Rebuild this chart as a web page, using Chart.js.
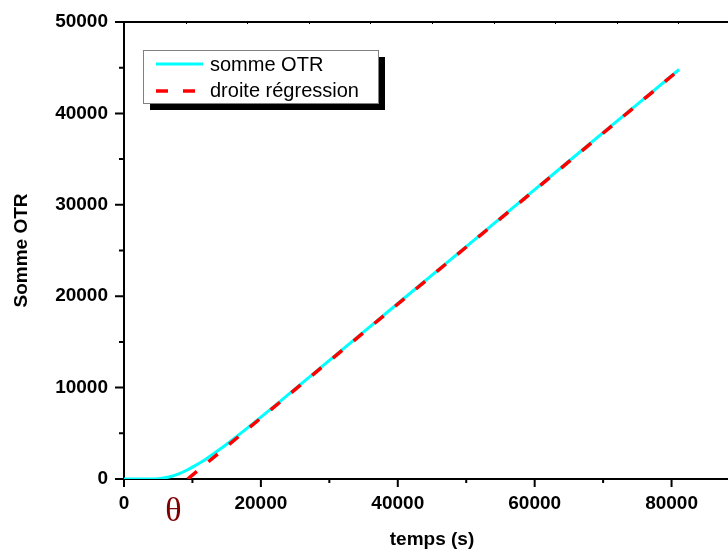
<!DOCTYPE html>
<html>
<head>
<meta charset="utf-8">
<script src="https://cdn.jsdelivr.net/npm/chart.js@4"></script>
<style>
  html, body { margin: 0; padding: 0; background: #fff; overflow: hidden; }
  #wrap { width: 760px; height: 554px; }
</style>
</head>
<body>
<div id="wrap"><canvas id="otrChart" width="760" height="554"></canvas></div>
<script>
// Somme OTR vs temps, with the regression line whose x-intercept gives theta.

const timeS = [0, 2000, 4000, 5000, 6000, 7000, 8000, 9000, 10000, 12000, 14000, 16000, 18000, 20000, 22500, 25000, 30000, 40000, 50000, 60000, 70000, 81100];
const sommeOTR = [0, 0, 10, 40, 130, 300, 560, 900, 1300, 2200, 3250, 4380, 5560, 6770, 8310, 9860, 12980, 19200, 25430, 31660, 37900, 44800];

const regTime = [9300, 81100];
const regValues = [0, 44760];

const xTicks = [0, 20000, 40000, 60000, 80000];
const xMinor = [10000, 30000, 50000, 70000, 90000];
const yTicks = [0, 10000, 20000, 30000, 40000, 50000];
const yMinor = [5000, 15000, 25000, 35000, 45000];
const X_MAX = 90000;
const THETA_X = 7200;

const FONT = "'Liberation Sans', Arial, sans-serif";

function toPoints(xs, ys) {
  return xs.map((x, i) => ({ x: x, y: ys[i] }));
}

// axis ticks (major/minor, outward), top frame and the boxed legend
const framePlugin = {
  id: "frame",
  afterDraw(chart) {
    const ctx = chart.ctx;
    const area = chart.chartArea;
    const xs = chart.scales.x;
    const ys = chart.scales.y;
    ctx.save();
    ctx.strokeStyle = "#000";
    ctx.lineWidth = 2;

    // top frame line
    ctx.beginPath();
    ctx.moveTo(area.left - 1, area.top);
    ctx.lineTo(area.right, area.top);
    ctx.stroke();

    ctx.beginPath();
    xTicks.forEach(v => { const p = xs.getPixelForValue(v); ctx.moveTo(p, area.bottom); ctx.lineTo(p, area.bottom + 8); });
    xMinor.forEach(v => { const p = xs.getPixelForValue(v); ctx.moveTo(p, area.bottom); ctx.lineTo(p, area.bottom + 4); });
    yTicks.forEach(v => { const p = ys.getPixelForValue(v); ctx.moveTo(area.left, p); ctx.lineTo(area.left - 9, p); });
    yMinor.forEach(v => { const p = ys.getPixelForValue(v); ctx.moveTo(area.left, p); ctx.lineTo(area.left - 5, p); });
    ctx.stroke();

    // tiny ticks on the top frame
    ctx.lineWidth = 1;
    ctx.beginPath();
    for (let i = 1; i < 10; i++) {
      const p = Math.round(area.left + i * (area.right - area.left) / 10) + 0.5;
      ctx.moveTo(p, area.top);
      ctx.lineTo(p, area.top + 2);
    }
    ctx.stroke();

    // theta under the axis
    ctx.fillStyle = "#7f0000";
    ctx.font = "34px 'Liberation Serif', 'Times New Roman', serif";
    ctx.textAlign = "center";
    ctx.textBaseline = "alphabetic";
    ctx.fillText("\u03B8", xs.getPixelForValue(THETA_X), area.bottom + 42);

    // legend box with shadow
    const bx = area.left + 19, by = area.top + 28, bw = 235, bh = 53;
    ctx.fillStyle = "#000";
    ctx.fillRect(bx + 7, by + 7, bw, bh);
    ctx.fillStyle = "#fff";
    ctx.fillRect(bx, by, bw, bh);
    ctx.strokeStyle = "#808080";
    ctx.lineWidth = 1;
    ctx.strokeRect(bx + 0.5, by + 0.5, bw, bh);

    const rows = [14, 41];
    const base = [21, 47];
    chart.data.datasets.forEach((ds, i) => {
      ctx.strokeStyle = ds.borderColor;
      ctx.lineWidth = ds.borderWidth;
      ctx.setLineDash(ds.borderDash || []);
      ctx.beginPath();
      ctx.moveTo(bx + 13, by + rows[i]);
      ctx.lineTo(bx + 60, by + rows[i]);
      ctx.stroke();
      ctx.setLineDash([]);
      ctx.fillStyle = "#000";
      ctx.font = "20px " + FONT;
      ctx.textAlign = "left";
      ctx.fillText(ds.label, bx + 67, by + base[i]);
    });
    ctx.restore();
  }
};

const ctx = document.getElementById("otrChart").getContext("2d");
const chart = new Chart(ctx, {
  type: "line",
  data: {
    datasets: [
      {
        label: "somme OTR",
        data: toPoints(timeS, sommeOTR),
        borderColor: "#00ffff",
        borderWidth: 3,
        pointRadius: 0,
        cubicInterpolationMode: "monotone",
        order: 2,
      },
      {
        label: "droite régression",
        data: toPoints(regTime, regValues),
        borderColor: "#ff0000",
        borderWidth: 3.5,
        borderDash: [12, 15],
        pointRadius: 0,
        order: 1,
      },
    ],
  },
  options: {
    responsive: false,
    animation: false,
    devicePixelRatio: 1,
    layout: { padding: { left: 0, top: 22, right: 20, bottom: 0 } },
    plugins: { legend: { display: false }, tooltip: { enabled: false } },
    scales: {
      x: {
        type: "linear",
        min: 0,
        max: X_MAX,
        afterBuildTicks: s => { s.ticks = xTicks.map(v => ({ value: v })); },
        afterFit: s => { s.height = 75; s.paddingLeft = 0; s.paddingRight = 0; },
        grid: { drawOnChartArea: false, drawTicks: false },
        border: { color: "#000", width: 2 },
        ticks: { color: "#000", padding: 13, maxRotation: 0, callback: v => String(v), font: { family: FONT, size: 19, weight: "bold" } },
        title: { display: true, text: "temps (s)", color: "#000", padding: { top: 0, bottom: 3 }, font: { family: FONT, size: 19, weight: "bold" } },
      },
      y: {
        min: 0,
        max: 50000,
        afterBuildTicks: s => { s.ticks = yTicks.map(v => ({ value: v })); },
        afterFit: s => { s.width = 124; s.paddingTop = 0; s.paddingBottom = 0; },
        grid: { drawOnChartArea: false, drawTicks: false },
        border: { color: "#000", width: 2 },
        ticks: { color: "#000", padding: 16, callback: v => String(v), font: { family: FONT, size: 19, weight: "bold" } },
        title: { display: true, text: "Somme OTR", color: "#000", padding: { top: 10, bottom: 0 }, font: { family: FONT, size: 19, weight: "bold" } },
      },
    },
  },
  plugins: [framePlugin],
});
</script>
</body>
</html>
